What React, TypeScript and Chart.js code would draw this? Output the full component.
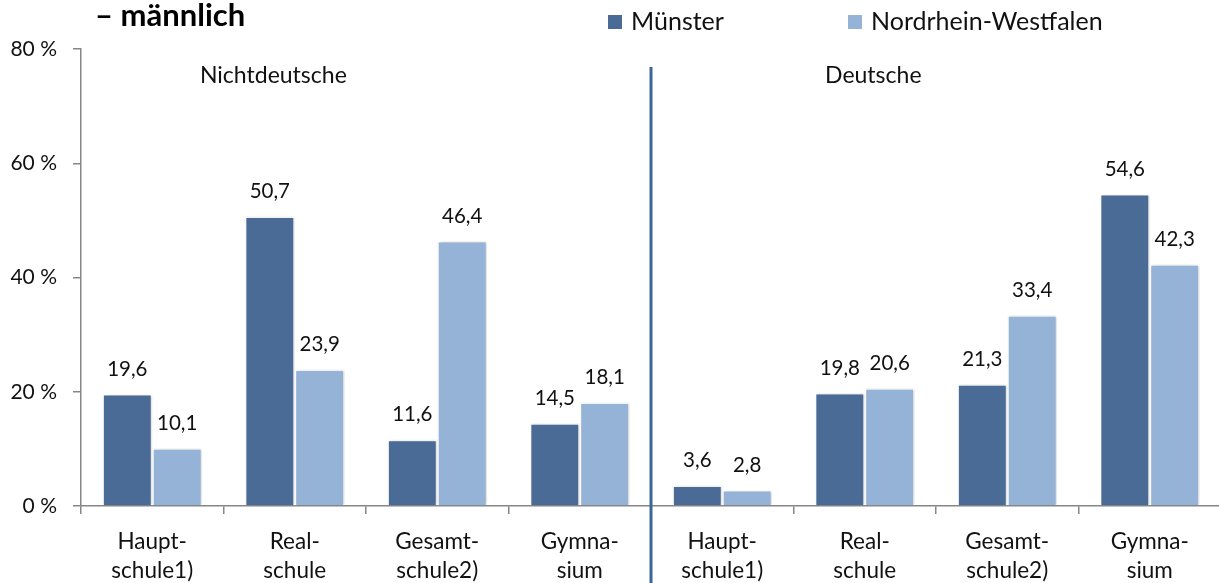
import React, { useEffect, useRef } from "react";
import { Chart, registerables } from "chart.js";

Chart.register(...registerables);

const schoolTypes: string[][] = [
  ["Haupt-", "schule1)"],
  ["Real-", "schule"],
  ["Gesamt-", "schule2)"],
  ["Gymna-", "sium"],
];
const categories: string[][] = [...schoolTypes, ...schoolTypes];
const muenster: number[] = [19.6, 50.7, 11.6, 14.5, 3.6, 19.8, 21.3, 54.6];
const nrw: number[] = [10.1, 23.9, 46.4, 18.1, 2.8, 20.6, 33.4, 42.3];
const seriesNames: string[] = ["Münster", "Nordrhein-Westfalen"];
const seriesColors: string[] = ["#4a6b96", "#95b3d7"];
const groupLabels: string[] = ["Nichtdeutsche", "Deutsche"];
const groupLabelPos: number[] = [0.85, 5.06];
const yTicks: number[] = [0, 20, 40, 60, 80];
const titleText = "– männlich";

const FONT = "Lato, 'Open Sans', sans-serif";
const fmt = (v: number) => v.toFixed(1).replace(".", ",");

const decorPlugin = {
  id: "decor",
  beforeDatasetsDraw(chart: any) {
    const ctx = chart.ctx;
    ctx.save();
    ctx.shadowColor = "rgba(0,0,0,0.22)";
    ctx.shadowBlur = 3;
    ctx.shadowOffsetX = 1;
    ctx.shadowOffsetY = 0;
  },
  afterDatasetsDraw(chart: any) {
    chart.ctx.restore();
  },
  afterDraw(chart: any) {
    const ctx = chart.ctx as CanvasRenderingContext2D;
    const x = chart.scales.x;
    ctx.save();
    // data labels
    ctx.fillStyle = "#111";
    ctx.font = `20.5px ${FONT}`;
    ctx.textAlign = "center";
    ctx.textBaseline = "middle";
    chart.data.datasets.forEach((ds: any, di: number) => {
      const meta = chart.getDatasetMeta(di);
      meta.data.forEach((bar: any, i: number) => {
        ctx.fillText(fmt(ds.data[i]), bar.x, bar.y - 25);
      });
    });
    // group labels
    ctx.font = `23px ${FONT}`;
    groupLabels.forEach((g, i) => {
      ctx.fillText(g, x.getPixelForValue(groupLabelPos[i]), 76);
    });
    // divider
    const divX = (x.getPixelForValue(3) + x.getPixelForValue(4)) / 2;
    ctx.strokeStyle = "#3d6698";
    ctx.lineWidth = 3;
    ctx.beginPath();
    ctx.moveTo(divX, 67);
    ctx.lineTo(divX, chart.height);
    ctx.stroke();
    // title
    ctx.textAlign = "left";
    ctx.textBaseline = "alphabetic";
    ctx.fillStyle = "#000";
    ctx.font = `bold 31px ${FONT}`;
    ctx.fillText(titleText, 95, 26);
    // legend
    const legendX = [608, 848];
    ctx.font = `25px ${FONT}`;
    ctx.textBaseline = "middle";
    chart.data.datasets.forEach((ds: any, di: number) => {
      ctx.fillStyle = ds.backgroundColor;
      ctx.fillRect(legendX[di], 15, 14, 14);
      ctx.fillStyle = "#111";
      ctx.fillText(ds.label, legendX[di] + 23, 22);
    });
    ctx.restore();
  },
};

export default function App() {
  const ref = useRef<HTMLCanvasElement | null>(null);
  useEffect(() => {
    if (!ref.current) return;
    const chart = new Chart(ref.current, {
      type: "bar",
      data: {
        labels: categories,
        datasets: [
          {
            label: seriesNames[0],
            data: muenster,
            backgroundColor: seriesColors[0],
            borderColor: "#ffffff",
            borderWidth: 1.5,
          },
          {
            label: seriesNames[1],
            data: nrw,
            backgroundColor: seriesColors[1],
            borderColor: "#ffffff",
            borderWidth: 1.5,
          },
        ],
      },
      options: {
        animation: false,
        responsive: true,
        maintainAspectRatio: false,
        layout: { padding: { top: 49, left: 0, right: 0, bottom: 0 } },
        plugins: {
          legend: { display: false },
          title: { display: false },
          tooltip: { enabled: false },
        },
        datasets: {
          bar: { categoryPercentage: 0.7, barPercentage: 1 },
        },
        scales: {
          x: {
            offset: true,
            grid: {
              offset: true,
              drawOnChartArea: false,
              drawTicks: true,
              tickLength: 8,
              color: "#868686",
              lineWidth: 1.5,
            },
            border: { color: "#868686", width: 1.5 },
            ticks: {
              color: "#111",
              font: { family: FONT, size: 22.5, lineHeight: 1.3 },
              padding: 13,
              maxRotation: 0,
              autoSkip: false,
            },
            afterFit: (s: any) => {
              s.height = 77;
            },
          },
          y: {
            min: yTicks[0],
            max: yTicks[yTicks.length - 1],
            afterBuildTicks: (s: any) => {
              s.ticks = yTicks.map((v) => ({ value: v }));
            },
            grid: {
              drawOnChartArea: false,
              drawTicks: true,
              tickLength: 8,
              color: "#868686",
              lineWidth: 1.5,
            },
            border: { color: "#868686", width: 1.5 },
            ticks: {
              color: "#111",
              font: { family: FONT, size: 21 },
              padding: 16,
              callback: (v: any) => `${v} %`,
            },
            afterFit: (s: any) => {
              s.width = 81;
            },
          },
        },
      },
      plugins: [decorPlugin],
    });
    return () => chart.destroy();
  }, []);
  return (
    <div
      style={{
        position: "fixed",
        left: 0,
        top: 0,
        width: 1221,
        height: 583,
        background: "#fff",
      }}
    >
      <canvas ref={ref} />
    </div>
  );
}
